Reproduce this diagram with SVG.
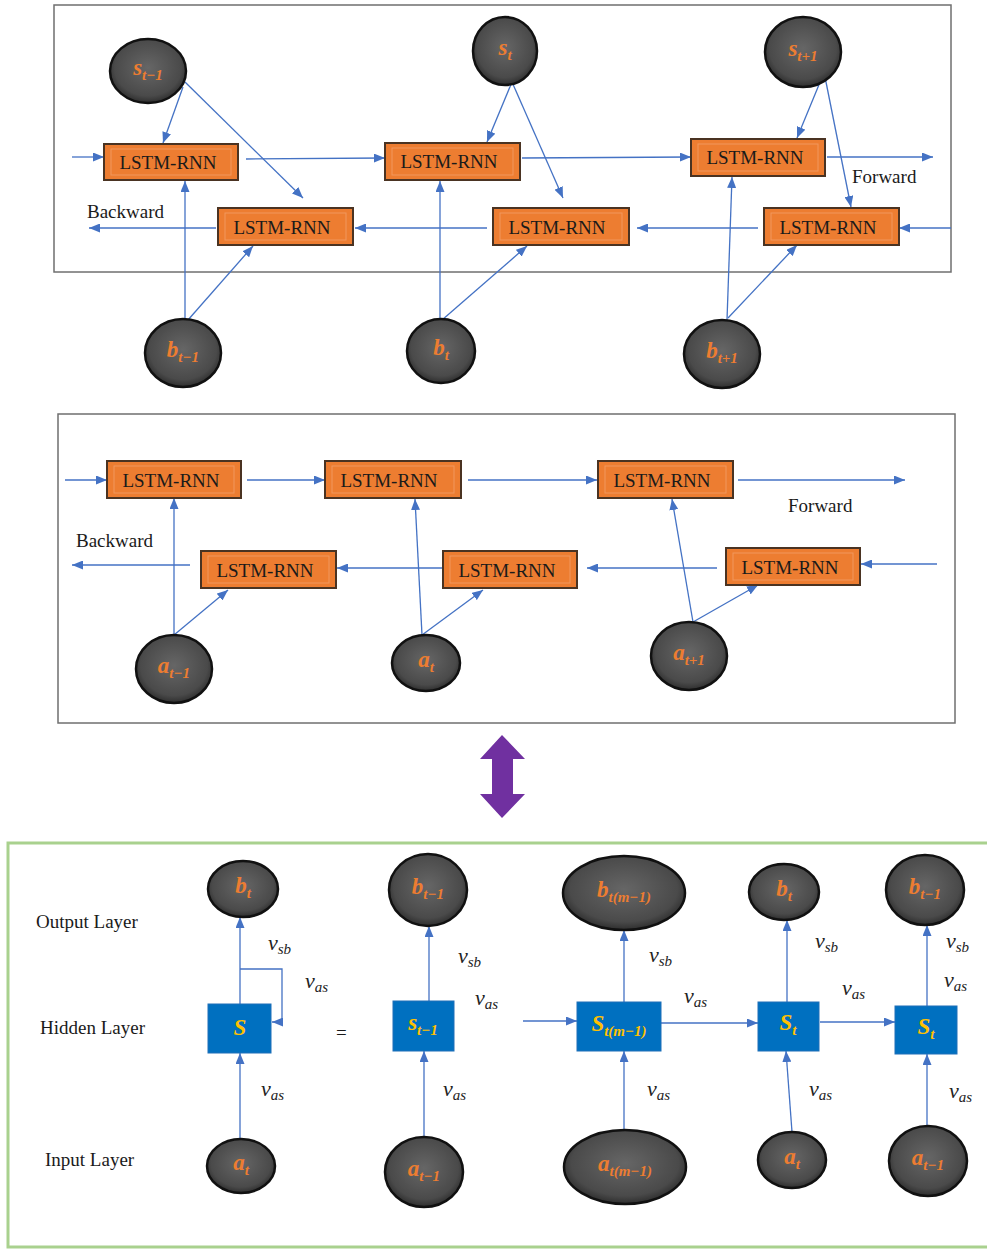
<svg xmlns="http://www.w3.org/2000/svg" width="987" height="1249" viewBox="0 0 987 1249">
<style>
.panel{fill:#fff;stroke:#6f6f6f;stroke-width:1.5}
.green{fill:none;stroke:#A9D18E;stroke-width:3}
.cn{fill:none;stroke:#4472C4;stroke-width:1.3;marker-end:url(#ah)}
.node{fill:url(#g);stroke:#111;stroke-width:2.5}
.lstm{fill:#ED7D31;stroke:#4a3322;stroke-width:2}
.inner{fill:none;stroke:#F4B183;stroke-width:1;opacity:.55}
.lt{font-family:"Liberation Serif",serif;font-size:19px;fill:#1a1a1a;text-anchor:middle}
.tx{font-family:"Liberation Serif",serif;font-size:19px;fill:#1a1a1a}
.nl{font-family:"Liberation Serif",serif;font-weight:bold;font-style:italic;font-size:23px;fill:#ED7D31;text-anchor:middle}
.bl{font-family:"Liberation Serif",serif;font-weight:bold;font-style:italic;font-size:23px;fill:#FFC000;text-anchor:middle}
.sb{font-size:15px}
.blue{fill:#0070C0;stroke:#1f6fb8;stroke-width:1}
.v{font-family:"Liberation Serif",serif;font-style:italic;font-size:22px;fill:#222}
</style>
<defs>
<radialGradient id="g" cx="50%" cy="45%" r="55%">
<stop offset="0" stop-color="#666"/>
<stop offset="0.8" stop-color="#4a4a4a"/>
<stop offset="1" stop-color="#2e2e2e"/>
</radialGradient>
<marker id="ah" markerUnits="userSpaceOnUse" markerWidth="11" markerHeight="9" refX="11" refY="4.5" orient="auto">
<path d="M0,0 L11,4.5 L0,9 z" fill="#4472C4"/>
</marker>
</defs>

<rect class="panel" x="54" y="5" width="897" height="267"/>
<rect class="panel" x="58" y="414" width="897" height="309"/>
<rect class="green" x="8" y="843" width="995" height="404"/>

<g id="connectors">
<path class="cn" d="M72,157 L104,157"/>
<path class="cn" d="M246,159 L385,158"/>
<path class="cn" d="M522,158 L691,157"/>
<path class="cn" d="M827,157 L933,157"/>
<path class="cn" d="M951,228 L899,228"/>
<path class="cn" d="M758,228 L637,228"/>
<path class="cn" d="M487,228 L355,228"/>
<path class="cn" d="M216,228 L89,228"/>
<path class="cn" d="M183,87 L163,143"/>
<path class="cn" d="M185,82 L303,198"/>
<path class="cn" d="M512,82 L487,142"/>
<path class="cn" d="M512,82 L563,198"/>
<path class="cn" d="M823,75 L797,138"/>
<path class="cn" d="M825,77 L851,207"/>
<path class="cn" d="M185,320 L185,181"/>
<path class="cn" d="M188,320 L253,246"/>
<path class="cn" d="M440,320 L440,181"/>
<path class="cn" d="M442,320 L527,246"/>
<path class="cn" d="M727,320 L732,177"/>
<path class="cn" d="M728,318 L797,245"/>
<path class="cn" d="M65,480 L107,480"/>
<path class="cn" d="M247,480 L325,480"/>
<path class="cn" d="M468,480 L597,480"/>
<path class="cn" d="M738,480 L905,480"/>
<path class="cn" d="M937,564 L861,564"/>
<path class="cn" d="M717,568 L587,568"/>
<path class="cn" d="M442,568 L337,568"/>
<path class="cn" d="M190,565 L72,565"/>
<path class="cn" d="M174,635 L174,498"/>
<path class="cn" d="M174,635 L228,590"/>
<path class="cn" d="M422,635 L415,499"/>
<path class="cn" d="M422,635 L483,590"/>
<path class="cn" d="M693,622 L672,499"/>
<path class="cn" d="M693,622 L758,585"/>
<path class="cn" d="M240,1139 L240,1053"/>
<path class="cn" d="M240,1004 L240,917"/>
<path class="cn" d="M240,969 H282 V1022 H272"/>
<path class="cn" d="M424,1137 L424,1051"/>
<path class="cn" d="M429,1001 L429,926"/>
<path class="cn" d="M523,1021 L577,1021"/>
<path class="cn" d="M624,1130 L624,1051"/>
<path class="cn" d="M624,1002 L624,930"/>
<path class="cn" d="M661,1023 L758,1023"/>
<path class="cn" d="M792,1132 L786,1051"/>
<path class="cn" d="M787,1002 L787,920"/>
<path class="cn" d="M820,1022 L895,1022"/>
<path class="cn" d="M927,1126 L927,1054"/>
<path class="cn" d="M927,1006 L927,925"/>
</g>

<g id="s_tm1"><ellipse class="node" cx="148" cy="71" rx="38" ry="32"/><text class="nl" x="148" y="75">s<tspan class="sb" dy="5">t−1</tspan></text></g>
<g id="s_t"><ellipse class="node" cx="505" cy="51" rx="32" ry="34"/><text class="nl" x="505" y="55">s<tspan class="sb" dy="5">t</tspan></text></g>
<g id="s_tp1"><ellipse class="node" cx="803" cy="52" rx="38" ry="35"/><text class="nl" x="803" y="56">s<tspan class="sb" dy="5">t+1</tspan></text></g>

<g id="lstm_f1"><rect class="lstm" x="104" y="144" width="134" height="36"/><rect class="inner" x="111" y="149" width="120" height="26"/><text class="lt" x="168" y="169">LSTM-RNN</text></g>
<g id="lstm_f2"><rect class="lstm" x="385" y="143" width="135" height="37"/><rect class="inner" x="392" y="148" width="121" height="27"/><text class="lt" x="449" y="168">LSTM-RNN</text></g>
<g id="lstm_f3"><rect class="lstm" x="691" y="139" width="134" height="37"/><rect class="inner" x="698" y="144" width="120" height="27"/><text class="lt" x="755" y="164">LSTM-RNN</text></g>
<g id="lstm_b1"><rect class="lstm" x="218" y="208" width="135" height="37"/><rect class="inner" x="225" y="213" width="121" height="27"/><text class="lt" x="282" y="234">LSTM-RNN</text></g>
<g id="lstm_b2"><rect class="lstm" x="493" y="208" width="136" height="37"/><rect class="inner" x="500" y="213" width="122" height="27"/><text class="lt" x="557" y="234">LSTM-RNN</text></g>
<g id="lstm_b3"><rect class="lstm" x="764" y="208" width="135" height="37"/><rect class="inner" x="771" y="213" width="121" height="27"/><text class="lt" x="828" y="234">LSTM-RNN</text></g>

<g id="b_tm1"><ellipse class="node" cx="183" cy="353" rx="38" ry="34"/><text class="nl" x="183" y="357">b<tspan class="sb" dy="5">t−1</tspan></text></g>
<g id="b_t"><ellipse class="node" cx="441" cy="351" rx="34" ry="32"/><text class="nl" x="441" y="355">b<tspan class="sb" dy="5">t</tspan></text></g>
<g id="b_tp1"><ellipse class="node" cx="722" cy="354" rx="38" ry="34"/><text class="nl" x="722" y="358">b<tspan class="sb" dy="5">t+1</tspan></text></g>

<text class="tx" x="852" y="183">Forward</text>
<text class="tx" x="87" y="218">Backward</text>

<g id="m_f1"><rect class="lstm" x="107" y="461" width="134" height="37"/><rect class="inner" x="114" y="466" width="120" height="27"/><text class="lt" x="171" y="487">LSTM-RNN</text></g>
<g id="m_f2"><rect class="lstm" x="325" y="461" width="136" height="37"/><rect class="inner" x="332" y="466" width="122" height="27"/><text class="lt" x="389" y="487">LSTM-RNN</text></g>
<g id="m_f3"><rect class="lstm" x="598" y="461" width="135" height="37"/><rect class="inner" x="605" y="466" width="121" height="27"/><text class="lt" x="662" y="487">LSTM-RNN</text></g>
<g id="m_b1"><rect class="lstm" x="201" y="551" width="135" height="37"/><rect class="inner" x="208" y="556" width="121" height="27"/><text class="lt" x="265" y="577">LSTM-RNN</text></g>
<g id="m_b2"><rect class="lstm" x="443" y="551" width="134" height="37"/><rect class="inner" x="450" y="556" width="120" height="27"/><text class="lt" x="507" y="577">LSTM-RNN</text></g>
<g id="m_b3"><rect class="lstm" x="726" y="548" width="134" height="37"/><rect class="inner" x="733" y="553" width="120" height="27"/><text class="lt" x="790" y="574">LSTM-RNN</text></g>

<g id="a_tm1"><ellipse class="node" cx="174" cy="669" rx="38" ry="34"/><text class="nl" x="174" y="673">a<tspan class="sb" dy="5">t−1</tspan></text></g>
<g id="a_t"><ellipse class="node" cx="426" cy="663" rx="34" ry="28"/><text class="nl" x="426" y="667">a<tspan class="sb" dy="5">t</tspan></text></g>
<g id="a_tp1"><ellipse class="node" cx="689" cy="656" rx="38" ry="34"/><text class="nl" x="689" y="660">a<tspan class="sb" dy="5">t+1</tspan></text></g>

<text class="tx" x="788" y="512">Forward</text>
<text class="tx" x="76" y="547">Backward</text>

<g id="double_arrow"><polygon points="502,735 525,759 513,759 513,794 525,794 502,818 480,794 492,794 492,759 480,759" fill="#7030A0"/></g>

<text class="tx" x="36" y="928">Output Layer</text>
<text class="tx" x="40" y="1034">Hidden Layer</text>
<text class="tx" x="45" y="1166">Input Layer</text>
<text class="tx" x="336" y="1039">=</text>

<g id="c1_b"><ellipse class="node" cx="243" cy="889" rx="35" ry="28"/><text class="nl" x="243" y="893">b<tspan class="sb" dy="5">t</tspan></text></g>
<g id="c1_s"><rect class="blue" x="208" y="1004" width="63" height="49"/><text class="bl" x="240" y="1035">S</text></g>
<g id="c1_a"><ellipse class="node" cx="241" cy="1166" rx="34" ry="27"/><text class="nl" x="241" y="1170">a<tspan class="sb" dy="5">t</tspan></text></g>

<g id="c2_b"><ellipse class="node" cx="428" cy="890" rx="39" ry="36"/><text class="nl" x="428" y="894">b<tspan class="sb" dy="5">t−1</tspan></text></g>
<g id="c2_s"><rect class="blue" x="393" y="1001" width="61" height="50"/><text class="bl" x="423" y="1030">s<tspan class="sb" dy="5">t−1</tspan></text></g>
<g id="c2_a"><ellipse class="node" cx="424" cy="1172" rx="39" ry="35"/><text class="nl" x="424" y="1176">a<tspan class="sb" dy="5">t−1</tspan></text></g>

<g id="c3_b"><ellipse class="node" cx="624" cy="893" rx="61" ry="37"/><text class="nl" x="624" y="897">b<tspan class="sb" dy="5">t(m−1)</tspan></text></g>
<g id="c3_s"><rect class="blue" x="577" y="1002" width="84" height="49"/><text class="bl" x="619" y="1031">S<tspan class="sb" dy="5">t(m−1)</tspan></text></g>
<g id="c3_a"><ellipse class="node" cx="625" cy="1167" rx="61" ry="37"/><text class="nl" x="625" y="1171">a<tspan class="sb" dy="5">t(m−1)</tspan></text></g>

<g id="c4_b"><ellipse class="node" cx="784" cy="892" rx="35" ry="28"/><text class="nl" x="784" y="896">b<tspan class="sb" dy="5">t</tspan></text></g>
<g id="c4_s"><rect class="blue" x="758" y="1002" width="61" height="49"/><text class="bl" x="788" y="1030">S<tspan class="sb" dy="5">t</tspan></text></g>
<g id="c4_a"><ellipse class="node" cx="792" cy="1160" rx="34" ry="28"/><text class="nl" x="792" y="1164">a<tspan class="sb" dy="5">t</tspan></text></g>

<g id="c5_b"><ellipse class="node" cx="925" cy="890" rx="39" ry="35"/><text class="nl" x="925" y="894">b<tspan class="sb" dy="5">t−1</tspan></text></g>
<g id="c5_s"><rect class="blue" x="895" y="1006" width="62" height="48"/><text class="bl" x="926" y="1034">S<tspan class="sb" dy="5">t</tspan></text></g>
<g id="c5_a"><ellipse class="node" cx="928" cy="1161" rx="39" ry="35"/><text class="nl" x="928" y="1165">a<tspan class="sb" dy="5">t−1</tspan></text></g>

<g id="weights">
<text class="v" x="268" y="950">v<tspan class="sb" dy="4">sb</tspan></text>
<text class="v" x="305" y="988">v<tspan class="sb" dy="4">as</tspan></text>
<text class="v" x="261" y="1096">v<tspan class="sb" dy="4">as</tspan></text>
<text class="v" x="458" y="963">v<tspan class="sb" dy="4">sb</tspan></text>
<text class="v" x="475" y="1005">v<tspan class="sb" dy="4">as</tspan></text>
<text class="v" x="443" y="1096">v<tspan class="sb" dy="4">as</tspan></text>
<text class="v" x="649" y="962">v<tspan class="sb" dy="4">sb</tspan></text>
<text class="v" x="684" y="1003">v<tspan class="sb" dy="4">as</tspan></text>
<text class="v" x="647" y="1096">v<tspan class="sb" dy="4">as</tspan></text>
<text class="v" x="815" y="948">v<tspan class="sb" dy="4">sb</tspan></text>
<text class="v" x="842" y="995">v<tspan class="sb" dy="4">as</tspan></text>
<text class="v" x="809" y="1096">v<tspan class="sb" dy="4">as</tspan></text>
<text class="v" x="946" y="948">v<tspan class="sb" dy="4">sb</tspan></text>
<text class="v" x="944" y="987">v<tspan class="sb" dy="4">as</tspan></text>
<text class="v" x="949" y="1098">v<tspan class="sb" dy="4">as</tspan></text>
</g>
</svg>
